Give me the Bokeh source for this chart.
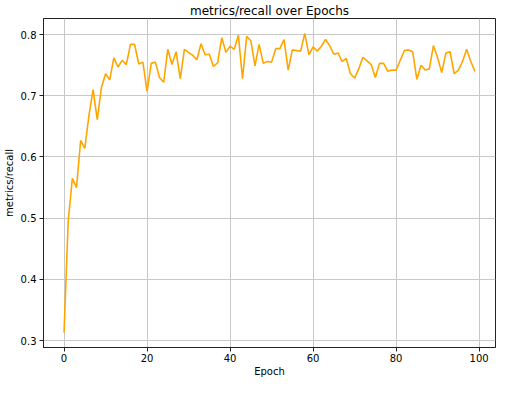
from bokeh.plotting import figure
from bokeh.models import Range1d, FixedTicker
from bokeh.embed import file_html
from bokeh.resources import INLINE

epochs = list(range(100))
recall = [
    0.313, 0.495, 0.565, 0.550, 0.627, 0.614, 0.668, 0.710, 0.661, 0.713,
    0.736, 0.726, 0.762, 0.747, 0.758, 0.751, 0.784, 0.784, 0.752, 0.755,
    0.707, 0.753, 0.755, 0.730, 0.722, 0.776, 0.751, 0.772, 0.728, 0.776,
    0.771, 0.766, 0.759, 0.785, 0.767, 0.768, 0.748, 0.754, 0.795, 0.771,
    0.781, 0.776, 0.799, 0.728, 0.797, 0.790, 0.749, 0.784, 0.753, 0.756,
    0.755, 0.777, 0.777, 0.792, 0.742, 0.775, 0.774, 0.773, 0.802, 0.767,
    0.780, 0.773, 0.781, 0.792, 0.782, 0.768, 0.770, 0.756, 0.761, 0.736,
    0.729, 0.744, 0.763, 0.757, 0.751, 0.730, 0.753, 0.753, 0.740, 0.742,
    0.742, 0.758, 0.774, 0.775, 0.772, 0.727, 0.750, 0.742, 0.744, 0.782,
    0.762, 0.738, 0.770, 0.772, 0.736, 0.742, 0.756, 0.776, 0.756, 0.740,
]
x_ticks = [0, 20, 40, 60, 80, 100]
y_ticks = [0.3, 0.4, 0.5, 0.6, 0.7, 0.8]

FONT = "DejaVu Sans"

p = figure(width=497, height=379, output_backend="svg", toolbar_location=None,
           title="metrics/recall over Epochs",
           x_range=Range1d(-4.95, 103.95), y_range=Range1d(0.2887, 0.8263))
p.min_border_left = 30
p.min_border_right = 2
p.min_border_top = 4
p.min_border_bottom = 0

p.title.align = "center"
p.title.text_font = FONT
p.title.text_font_size = "12px"
p.title.text_font_style = "normal"
p.title.text_color = "black"
p.title.standoff = 2

p.line(epochs, recall, line_color="#FFA500", line_width=1.6)

for ax in (p.xaxis, p.yaxis):
    ax.axis_line_color = "#222222"
    ax.major_tick_line_color = "#222222"
    ax.major_tick_out = 4
    ax.major_tick_in = 0
    ax.minor_tick_line_color = None
    ax.major_label_text_font = FONT
    ax.major_label_text_font_size = "10px"
    ax.major_label_text_color = "black"
    ax.axis_label_text_font = FONT
    ax.axis_label_text_font_size = "10px"
    ax.axis_label_text_font_style = "normal"
    ax.axis_label_text_color = "black"
    ax.major_label_standoff = 3
    ax.axis_label_standoff = 3

p.xaxis.axis_label_standoff = 1
p.xaxis.major_label_standoff = 2

p.xaxis.ticker = FixedTicker(ticks=x_ticks)
p.yaxis.ticker = FixedTicker(ticks=y_ticks)
p.xaxis.axis_label = "Epoch"
p.yaxis.axis_label = "metrics/recall"

p.xgrid.ticker = FixedTicker(ticks=x_ticks)
p.ygrid.ticker = FixedTicker(ticks=y_ticks)
p.grid.grid_line_color = "#c8c8c8"
p.grid.grid_line_width = 1

p.outline_line_color = "#222222"
p.outline_line_width = 1
p.background_fill_color = "white"
p.border_fill_color = "white"

open("out.html", "w").write(file_html(p, INLINE))
